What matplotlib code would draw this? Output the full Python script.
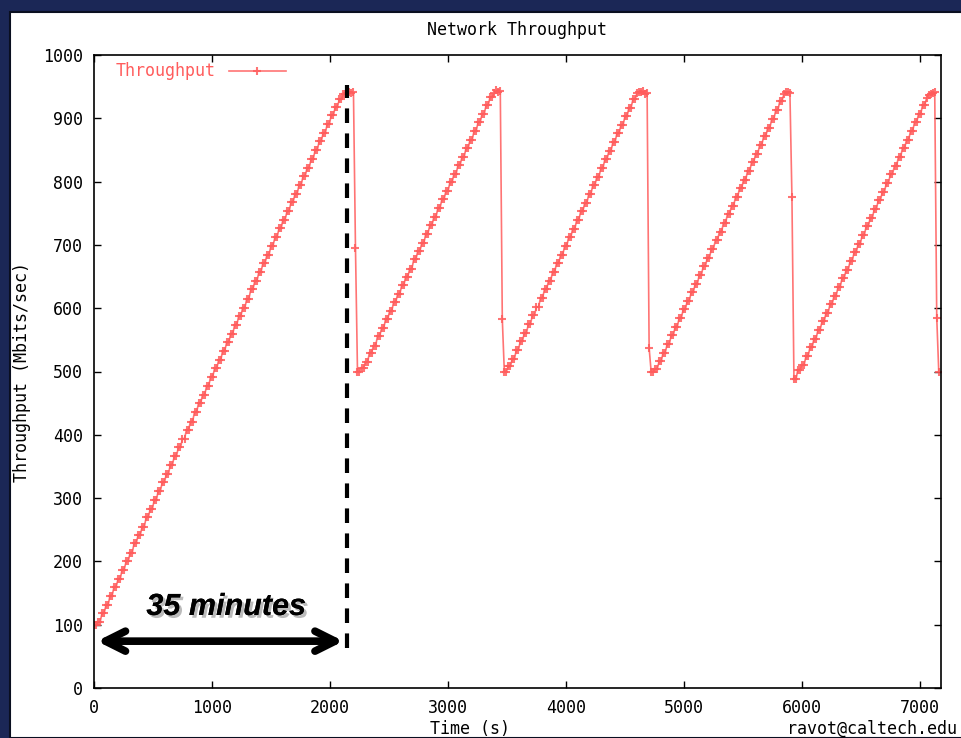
import numpy as np
import matplotlib.pyplot as plt
from matplotlib.patches import Rectangle
import matplotlib.patheffects as pe

# staircase levels (each level is held for two samples)
sample_step = 17.05  # seconds between samples

cycle1_levels = [100, 104, 118, 131, 146, 160, 172, 187, 200, 214, 229, 242, 255, 270,
                 283, 297, 312, 325, 338, 353, 367, 380, 394, 408, 421, 436, 450, 463,
                 477, 492, 505, 518, 533, 546, 560, 574, 588, 601, 615, 630, 643, 657,
                 671, 684, 699, 712, 726, 740, 753, 768, 781, 795, 809, 822, 836, 850,
                 864, 877, 891, 905, 918, 930, 938]
cycle1_top = [940, 942, 940, 941]
cycle1_drop = [695]

cycle2_levels = [500, 506, 515, 530, 541, 556, 568, 583, 595, 610, 622, 636, 650, 662,
                 677, 690, 703, 718, 731, 744, 758, 772, 785, 799, 812, 826, 839, 853,
                 866, 880, 894, 907, 921, 934]
cycle2_top = [940, 944, 941, 943]
cycle2_drop = [583]

cycle3_levels = [500, 508, 520, 534, 548, 561, 575, 589, 602, 616, 630, 643, 657, 671,
                 684, 698, 712, 725, 739, 753, 766, 780, 794, 807, 821, 835, 848, 862,
                 876, 889, 903, 917, 930]
cycle3_top = [940, 942, 941, 943, 938, 940]
cycle3_drop = [537]

cycle4_levels = [500, 504, 516, 530, 543, 557, 571, 585, 598, 612, 626, 639, 653, 667,
                 680, 694, 708, 721, 735, 749, 762, 776, 790, 803, 817, 831, 844, 858,
                 872, 885, 899, 913, 927]
cycle4_top = [938, 941, 942, 940]
cycle4_drop = [776]

cycle5_levels = [488, 503, 510, 524, 538, 552, 566, 579, 593, 607, 620, 634, 648, 661,
                 675, 689, 702, 716, 730, 743, 757, 771, 784, 798, 812, 825, 839, 853,
                 866, 880, 894, 907, 921]
cycle5_top = [932, 937, 938, 940, 941]
cycle5_drop = [585, 500]

cycles = [
    (cycle1_levels, cycle1_top, cycle1_drop),
    (cycle2_levels, cycle2_top, cycle2_drop),
    (cycle3_levels, cycle3_top, cycle3_drop),
    (cycle4_levels, cycle4_top, cycle4_drop),
    (cycle5_levels, cycle5_top, cycle5_drop),
]

throughput = []
for levels, top, drop in cycles:
    throughput += list(np.repeat(levels, 2)) + top + drop
throughput = np.array(throughput, dtype=float)
time_s = np.arange(len(throughput)) * sample_step

mono = "DejaVu Sans Mono"
red = "#ff5c5c"

fig = plt.figure(figsize=(9.61, 7.38), dpi=100, facecolor="#1b2756")
# white slide panel inside the navy frame
fig.patches.append(Rectangle((10 / 961, 0), 1, (738 - 12) / 738, transform=fig.transFigure,
                             facecolor="white", edgecolor="#0a0f20", lw=1.5, zorder=-10))

ax = fig.add_axes([94 / 961, 50 / 738, (941 - 94) / 961, (688 - 55) / 738])
ax.set_facecolor("white")

ax.plot(time_s, throughput, color=red, lw=1.2, marker="+", ms=6, mew=1.5,
        alpha=0.85, label="Throughput")

ax.set_xlim(0, 7180)
ax.set_ylim(0, 1000)
ax.set_xticks(np.arange(0, 7001, 1000))
ax.set_yticks(np.arange(0, 1001, 100))
ax.tick_params(direction="in", top=True, right=True, length=5, width=1,
               labelsize=12, pad=8)
for lbl in ax.get_xticklabels() + ax.get_yticklabels():
    lbl.set_fontfamily(mono)
for sp in ax.spines.values():
    sp.set_linewidth(1.2)

leg = ax.legend(loc="upper left", bbox_to_anchor=(0.008, 1.012), frameon=False,
                markerfirst=False, handlelength=3.4, numpoints=1,
                prop={"family": mono, "size": 12})
for t in leg.get_texts():
    t.set_color(red)

fig.text(517 / 961, 1 - 30 / 738, "Network Throughput", family=mono, fontsize=12,
         ha="center", va="center")
fig.text(22 / 961, 1 - 372 / 738, "Throughput (Mbits/sec)", family=mono, fontsize=12,
         rotation=90, ha="center", va="center")
fig.text(470 / 961, 1 - 729 / 738, "Time (s)", family=mono, fontsize=12,
         ha="center", va="center")
fig.text(787 / 961, 1 - 729 / 738, "ravot@caltech.edu", family=mono, fontsize=12,
         ha="left", va="center")

# annotation: the first ramp takes 35 minutes
ax.plot([2146, 2146], [63, 952], color="black", lw=3, ls=(0, (3.5, 2.5)),
        clip_on=False)
ax.annotate("", xy=(25, 74), xytext=(2115, 74),
            arrowprops=dict(arrowstyle="<->,head_length=0.9,head_width=0.45",
                            mutation_scale=16, lw=5.5, color="black",
                            shrinkA=0, shrinkB=0))
ax.text(1120, 128, "35 minutes", family="Liberation Sans", fontsize=22,
        fontweight="bold", fontstyle="italic", ha="center", va="center",
        path_effects=[pe.withSimplePatchShadow(offset=(2, -2), shadow_rgbFace="#aaaaaa",
                                               alpha=0.8), pe.Normal()])

fig.savefig("out.png", dpi=100, facecolor=fig.get_facecolor())
